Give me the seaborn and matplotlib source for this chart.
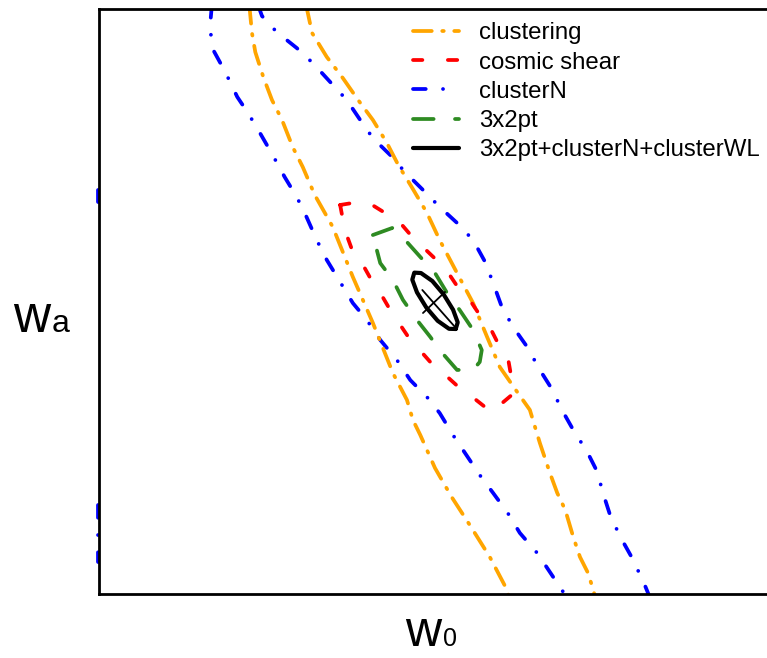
import matplotlib.pyplot as plt
import numpy as np
import pandas as pd
import seaborn as sns

# contour vertices, (w0, wa)
clustering_left_w0 = [-1.275, -1.271, -1.266, -1.254, -1.241, -1.226, -1.210, -1.195, -1.177, -1.150, -1.120,
                      -1.090, -1.060, -1.039, -1.030, -1.019, -0.997, -0.972, -0.945, -0.915, -0.889, -0.886]
clustering_left_wa = [1.521, 1.377, 1.279, 1.151, 1.033, 0.931, 0.792, 0.690, 0.546, 0.382, 0.126,
                      -0.110, -0.367, -0.505, -0.608, -0.685, -0.854, -1.003, -1.146, -1.310, -1.480, -1.521]
clustering_right_w0 = [-1.190, -1.181, -1.159, -1.135, -1.112, -1.090, -1.069, -1.052, -1.031, -1.009, -0.990,
                       -0.964, -0.940, -0.919, -0.900, -0.876, -0.855, -0.840, -0.825, -0.814, -0.802, -0.790,
                       -0.780, -0.768, -0.760, -0.757]
clustering_right_wa = [1.521, 1.377, 1.254, 1.146, 1.033, 0.931, 0.813, 0.700, 0.582, 0.454, 0.315,
                       0.146, -0.008, -0.182, -0.336, -0.454, -0.556, -0.726, -0.879, -0.982, -1.069, -1.208,
                       -1.310, -1.392, -1.480, -1.521]

clusterN_left_w0 = [-1.331, -1.334, -1.329, -1.311, -1.293, -1.277, -1.259, -1.240, -1.222, -1.204, -1.192,
                    -1.174, -1.159, -1.139, -1.120, -1.099, -1.079, -1.054, -1.034, -1.009, -0.990, -0.970,
                    -0.955, -0.930, -0.910, -0.888, -0.870, -0.844, -0.829, -0.805, -0.802]
clusterN_left_wa = [1.521, 1.403, 1.290, 1.177, 1.049, 0.967, 0.864, 0.751, 0.638, 0.536, 0.454,
                    0.315, 0.213, 0.100, -0.008, -0.095, -0.197, -0.300, -0.403, -0.490, -0.572, -0.685,
                    -0.762, -0.890, -0.982, -1.085, -1.187, -1.290, -1.367, -1.490, -1.521]
clusterN_right_w0 = [-1.262, -1.256, -1.234, -1.204, -1.180, -1.154, -1.129, -1.109, -1.090, -1.064, -1.042,
                     -1.015, -0.990, -0.964, -0.940, -0.922, -0.910, -0.897, -0.880, -0.859, -0.840, -0.822,
                     -0.807, -0.790, -0.769, -0.754, -0.746, -0.734, -0.717, -0.701, -0.683, -0.675]
clusterN_right_wa = [1.521, 1.464, 1.382, 1.300, 1.223, 1.126, 1.033, 0.931, 0.838, 0.751, 0.664,
                     0.572, 0.485, 0.403, 0.315, 0.203, 0.095, -0.028, -0.131, -0.233, -0.351, -0.449,
                     -0.556, -0.659, -0.772, -0.874, -0.977, -1.105, -1.223, -1.321, -1.454, -1.521]
# bits of the clusterN contour that poke out at the left edge
clusterN_edge_w0 = [-1.502, -1.502]
clusterN_edge1_wa = [0.572, 0.510]
clusterN_edge2_wa = [-1.044, -1.336]

shear_w0 = [-1.139, -1.112, -1.091, -1.067, -1.049, -1.027, -1.015, -0.990, -0.978, -0.960, -0.945, -0.927,
            -0.915, -0.900, -0.888, -0.882, -0.882, -0.900, -0.915, -0.924, -0.945, -0.960, -0.990, -1.000,
            -1.024, -1.034, -1.054, -1.064, -1.084, -1.094, -1.109, -1.120, -1.132, -1.139]
shear_wa = [0.495, 0.510, 0.495, 0.444, 0.403, 0.315, 0.279, 0.197, 0.151, 0.059, 0.008, -0.085,
            -0.131, -0.233, -0.285, -0.403, -0.479, -0.531, -0.567, -0.536, -0.479, -0.444, -0.351, -0.326,
            -0.233, -0.197, -0.095, -0.044, 0.074, 0.121, 0.213, 0.254, 0.367, 0.495]

x3x2_w0 = [-1.090, -1.061, -1.039, -1.015, -0.997, -0.979, -0.960, -0.940, -0.927, -0.930,
           -0.940, -0.964, -0.990, -1.004, -1.024, -1.045, -1.060, -1.079, -1.090]
x3x2_wa = [0.341, 0.377, 0.305, 0.213, 0.146, 0.044, -0.044, -0.146, -0.249, -0.310,
           -0.351, -0.351, -0.249, -0.182, -0.095, 0.008, 0.110, 0.197, 0.341]

combined_w0 = [-0.966, -0.963, -0.970, -0.984, -1.001, -1.018, -1.028, -1.031, -1.024, -1.010, -0.993, -0.976, -0.966]
combined_wa = [-0.141, -0.107, -0.042, 0.036, 0.105, 0.146, 0.148, 0.112, 0.047, -0.031, -0.099, -0.140, -0.141]
cross_a_w0 = [-1.016, -0.967]
cross_a_wa = [0.059, -0.131]
cross_b_w0 = [-1.015, -0.982]
cross_b_wa = [-0.059, 0.049]

labels = ['clustering', 'cosmic shear', 'clusterN', '3x2pt', '3x2pt+clusterN+clusterWL']

sns.set_style('white')
plt.rcParams['font.family'] = ['Liberation Sans', 'DejaVu Sans']
plt.rcParams['text.color'] = 'black'

fig = plt.figure(figsize=(7.67, 6.58), dpi=100)
ax = fig.add_axes([99 / 767, 1 - 594 / 658, 668 / 767, 585 / 658])

lw = 2.7
orange = dict(color='#FFA500', linewidth=lw, linestyle=(0, (5.0, 2.8, 0.4, 2.8)), dash_capstyle='round')
red = dict(color='#FF0000', linewidth=lw, linestyle=(0, (2.5, 6.8)), dash_capstyle='round')
blue = dict(color='#0000FF', linewidth=lw, linestyle=(0, (3.4, 4.6, 0.01, 4.6)), dash_capstyle='round')
green = dict(color='#2E8B22', linewidth=lw, linestyle=(0, (5.5, 5.7)), dash_capstyle='round')
black = dict(color='black', linewidth=3.0, solid_capstyle='round', solid_joinstyle='round')


def contour(x, y, **kws):
    sns.lineplot(x=x, y=y, sort=False, estimator=None, ax=ax, **kws)
    return ax.lines[-1]


handles = {}
contour(clusterN_left_w0, clusterN_left_wa, **blue)
handles['clusterN'] = contour(clusterN_right_w0, clusterN_right_wa, **blue)
contour(clusterN_edge_w0, clusterN_edge1_wa, clip_on=False, **blue)
contour(clusterN_edge_w0, clusterN_edge2_wa, clip_on=False, **blue)
contour(clustering_left_w0, clustering_left_wa, **orange)
handles['clustering'] = contour(clustering_right_w0, clustering_right_wa, **orange)
handles['cosmic shear'] = contour(shear_w0, shear_wa, **red)
handles['3x2pt'] = contour(x3x2_w0, x3x2_wa, **green)
handles['3x2pt+clusterN+clusterWL'] = contour(combined_w0, combined_wa, **black)
contour(cross_a_w0, cross_a_wa, color='black', linewidth=1.3)
contour(cross_b_w0, cross_b_wa, color='black', linewidth=1.3)

ax.set_xlim(-1.5, -0.5)
ax.set_ylim(-1.5, 1.5)
ax.set_xticks([])
ax.set_yticks([])
ax.set_xlabel('')
ax.set_ylabel('')
for side in ['left', 'top', 'bottom']:
    ax.spines[side].set_color('black')
    ax.spines[side].set_linewidth(2.0)
ax.spines['right'].set_visible(False)

ax.legend([handles[k] for k in labels], labels, loc='upper left', bbox_to_anchor=(0.470, 0.977),
          frameon=False, fontsize=17.3, handlelength=1.9, handletextpad=0.85, labelspacing=0.3,
          borderpad=0, borderaxespad=0)

# axis labels: big w with a small index on the same baseline
fig.text(13 / 767, 1 - 332 / 658, 'w', fontsize=37, va='baseline', ha='left')
fig.text(52 / 767, 1 - 332 / 658, 'a', fontsize=23, va='baseline', ha='left')
fig.text(405 / 767, 1 - 646 / 658, 'w', fontsize=36, va='baseline', ha='left')
fig.text(443 / 767, 1 - 646 / 658, '0', fontsize=18, va='baseline', ha='left')

fig.savefig('out.png', dpi=100)
